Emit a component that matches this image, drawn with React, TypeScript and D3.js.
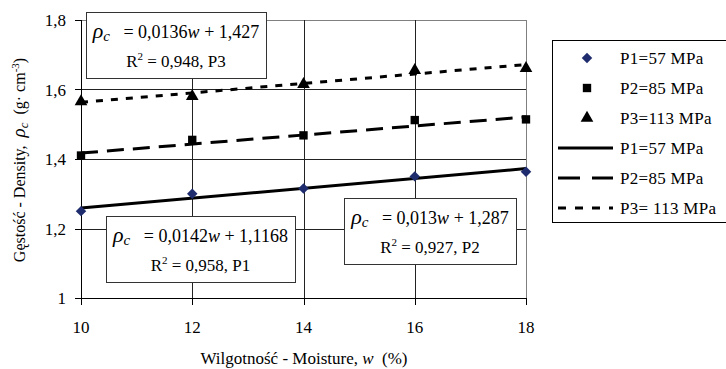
import React from 'react';
import * as d3 from 'd3';

// moisture levels (x) and measured densities per pressure
const moisture = [10, 12, 14, 16, 18];
const p1Density = [1.25, 1.3, 1.315, 1.35, 1.363];
const p2Density = [1.41, 1.455, 1.468, 1.512, 1.514];
const p3Density = [1.565, 1.58, 1.615, 1.655, 1.661];

// linear trend coefficients
const trendSlopes = [0.0142, 0.013, 0.0136];
const trendIntercepts = [1.1168, 1.287, 1.427];

const seriesNames = ['P1=57 MPa', 'P2=85 MPa', 'P3=113 MPa'];
const trendNames = ['P1=57 MPa', 'P2=85 MPa', 'P3= 113 MPa'];
const yTicks = [1, 1.2, 1.4, 1.6, 1.8];
const yTickLabels = ['1', '1,2', '1,4', '1,6', '1,8'];
const xTicks = [10, 12, 14, 16, 18];

const eqSlopes = ['0,0142', '0,013', '0,0136'];
const eqIntercepts = ['1,1168', '1,287', '1,427'];
const eqR2 = ['0,958', '0,927', '0,948'];
const eqTags = ['P1', 'P2', 'P3'];

const FONT = '"Liberation Serif"';
const NAVY = '#1f2d6e';

const x = d3.scaleLinear().domain([10, 18]).range([81, 526]);
const y = d3.scaleLinear().domain([1, 1.8]).range([298, 20]);

const diamond = d3.symbol().type(d3.symbolDiamond2).size(70)() as string;
const square = d3.symbol().type(d3.symbolSquare).size(70)() as string;
const triangle = d3.symbol().type(d3.symbolTriangle).size(70)() as string;
const markerShapes = [diamond, square, triangle];
const markerFills = [NAVY, '#000', '#000'];
const seriesValues = [p1Density, p2Density, p3Density];
const plotDashes = [undefined, '17,9', '7,8'];
const legendDashes = [undefined, '22,12', '8,9'];

// where each equation box sits (series index -> box)
const boxes = [
  { i: 0, x: 106, y: 216, w: 189, h: 66 },
  { i: 1, x: 344, y: 198, w: 172, h: 66 },
  { i: 2, x: 86, y: 12, w: 180, h: 66 },
];

const px = (v: number) => Math.round(v) + 0.5;
const T = { fontFamily: FONT };

const App = () => {
  const rowY = d3.scaleLinear().domain([0, 5]).range([58, 208]);

  return (
    <svg width={726} height={369} style={{ position: 'absolute', left: 0, top: 0, background: 'white' }}>
      {/* plot frame */}
      <rect x={81.5} y={20.5} width={445} height={278} fill="white" stroke="#808080" />

      {/* gridlines */}
      {yTicks.filter(d => d > 1 && d < 1.8).map(d => (
        <line key={'h' + d} x1={81} x2={526} y1={px(y(d))} y2={px(y(d))} stroke="#222" />
      ))}
      {xTicks.filter(d => d > 10 && d < 18).map(d => (
        <line key={'v' + d} y1={20} y2={298} x1={px(x(d))} x2={px(x(d))} stroke="#222" />
      ))}

      {/* axes */}
      <line x1={81.5} x2={81.5} y1={20} y2={299} stroke="#000" />
      <line x1={81} x2={527} y1={298.5} y2={298.5} stroke="#000" />
      {yTicks.map((d, i) => (
        <g key={'yt' + d}>
          <line x1={75} x2={81} y1={px(y(d))} y2={px(y(d))} stroke="#000" />
          <text x={66} y={y(d) + 6} textAnchor="end" fontSize={17} style={T}>{yTickLabels[i]}</text>
        </g>
      ))}
      {xTicks.map(d => (
        <g key={'xt' + d}>
          <line x1={px(x(d))} x2={px(x(d))} y1={298} y2={305} stroke="#000" />
          <text x={x(d)} y={333} textAnchor="middle" fontSize={17} style={T}>{d}</text>
        </g>
      ))}

      {/* trend lines */}
      {trendSlopes.map((s, i) => (
        <line key={'tr' + i}
          x1={x(10)} x2={x(18)}
          y1={y(s * 10 + trendIntercepts[i])} y2={y(s * 18 + trendIntercepts[i])}
          stroke="#000" strokeWidth={3} strokeDasharray={plotDashes[i]} />
      ))}

      {/* markers */}
      {seriesValues.map((vals, si) =>
        vals.map((v, j) => (
          <path key={`m${si}-${j}`} d={markerShapes[si]} fill={markerFills[si]}
            transform={`translate(${x(moisture[j])},${y(v)})`} />
        ))
      )}

      {/* equation boxes */}
      {boxes.map(b => {
        const cx = b.x + b.w / 2;
        return (
          <g key={'box' + b.i}>
            <rect x={b.x + 0.5} y={b.y + 0.5} width={b.w} height={b.h} fill="white" stroke="#333" />
            <text x={cx} y={b.y + 26} textAnchor="middle" fontSize={18} style={T}>
              <tspan fontStyle="italic" fontSize={22}>ρ</tspan>
              <tspan fontStyle="italic" fontSize={15} dy={3}>c</tspan>
              <tspan dy={-3}>{`\u00a0\u00a0 = ${eqSlopes[b.i]}`}</tspan>
              <tspan fontStyle="italic">w</tspan>
              <tspan>{` + ${eqIntercepts[b.i]}`}</tspan>
            </text>
            <text x={cx} y={b.y + 55} textAnchor="middle" fontSize={17} style={T}>
              <tspan>R</tspan>
              <tspan dy={-7} fontSize={11}>2</tspan>
              <tspan dy={7}>{` = ${eqR2[b.i]}, ${eqTags[b.i]}`}</tspan>
            </text>
          </g>
        );
      })}

      {/* axis titles */}
      <text x={304} y={364} textAnchor="middle" fontSize={17} style={T}>
        <tspan>Wilgotność - Moisture, </tspan>
        <tspan fontStyle="italic">w</tspan>
        <tspan>{'\u00a0\u00a0(%)'}</tspan>
      </text>
      <text transform="translate(25,160) rotate(-90)" textAnchor="middle" fontSize={16} style={T}>
        <tspan>{'Gęstość - Density,\u00a0\u00a0'}</tspan>
        <tspan fontStyle="italic" fontSize={19}>ρ</tspan>
        <tspan fontStyle="italic" fontSize={13} dy={3}>c</tspan>
        <tspan dy={-3}>{'\u00a0\u00a0(g· cm'}</tspan>
        <tspan dy={-6} fontSize={11}>-3</tspan>
        <tspan dy={6}>)</tspan>
      </text>

      {/* legend */}
      <rect x={552.5} y={40.5} width={190} height={182} fill="white" stroke="#000" />
      {seriesNames.map((name, i) => (
        <g key={'ls' + i}>
          <path d={markerShapes[i]} fill={markerFills[i]} transform={`translate(587,${rowY(i)})`} />
          <text x={620} y={rowY(i) + 6} fontSize={17} letterSpacing={0.3} style={T}>{name}</text>
        </g>
      ))}
      {trendNames.map((name, i) => (
        <g key={'lt' + i}>
          <line x1={558} x2={613} y1={rowY(i + 3)} y2={rowY(i + 3)}
            stroke="#000" strokeWidth={3} strokeDasharray={legendDashes[i]} />
          <text x={620} y={rowY(i + 3) + 6} fontSize={17} letterSpacing={0.3} style={T}>{name}</text>
        </g>
      ))}
    </svg>
  );
};

export default App;
